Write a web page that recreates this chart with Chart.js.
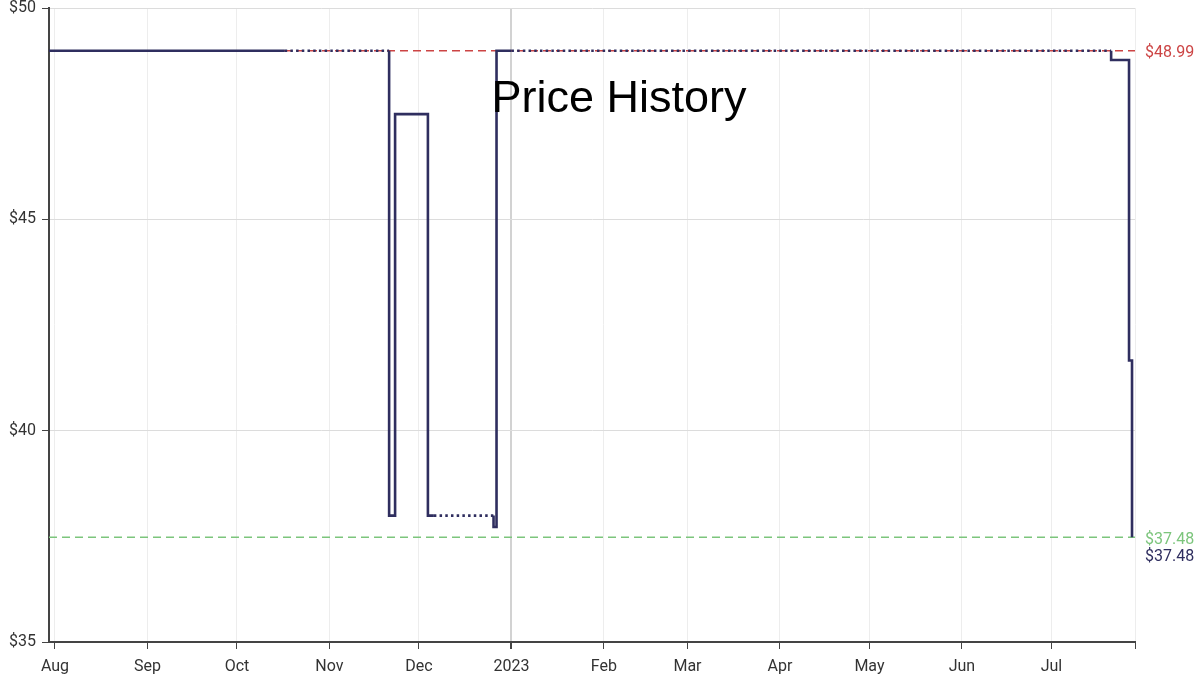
<!DOCTYPE html>
<html>
<head>
<meta charset="utf-8">
<script src="https://cdn.jsdelivr.net/npm/chart.js@4.4.1/dist/chart.umd.min.js"></script>
<style>
  html, body { margin: 0; padding: 0; background: #fff; }
  #wrap { width: 1200px; height: 681px; position: relative; }
</style>
</head>
<body>
<div id="wrap"><canvas id="priceChart"></canvas></div>
<script>
// Amazon price records (a repeated date = the step happens on that day)
const priceDates = ['2022-07-30', '2022-10-17', '2022-11-21', '2022-11-21', '2022-11-23', '2022-12-04', '2022-12-06',
                    '2022-12-26', '2022-12-26', '2022-12-27', '2023-01-01', '2023-07-21', '2023-07-21', '2023-07-27', '2023-07-28'];
const priceValues = [48.99, 48.99, 48.99, 37.99, 47.49, 37.99, 37.99,
                     37.99, 37.72, 48.99, 48.99, 48.99, 48.77, 41.66, 37.48];
// 1 = no data recorded until the next point (drawn dotted)
const gapAfter = [0, 1, 0, 0, 0, 0, 1, 0, 0, 0, 1, 0, 0, 0, 0];

const rangeStart = '2022-07-30';
const rangeEnd = '2023-07-29';

const monthTicks = ['2022-08-01', '2022-09-01', '2022-10-01', '2022-11-01', '2022-12-01', '2023-01-01',
                    '2023-02-01', '2023-03-01', '2023-04-01', '2023-05-01', '2023-06-01', '2023-07-01'];
const monthLabels = ['Aug', 'Sep', 'Oct', 'Nov', 'Dec', '2023', 'Feb', 'Mar', 'Apr', 'May', 'Jun', 'Jul'];

const yTicks = [35, 40, 45, 50];

const highestPrice = 48.99;
const lowestPrice = 37.48;
const currentPrice = 37.48;

const NAVY = '#2f2e5f';
const RED = '#cc4444';
const GREEN = '#7cc57c';

function toDay(s) {
    return Date.parse(s + 'T00:00:00Z') / 86400000;
}

const dayMin = toDay(rangeStart);
const dayMax = toDay(rangeEnd);

// labels on the right side + big title
const sideLabels = {
    id: 'sideLabels',
    afterDraw(chart) {
        const { ctx, chartArea, scales } = chart;
        const y = scales.y;
        const x = chartArea.right + 10;
        ctx.save();
        ctx.font = '16px Roboto';
        ctx.textAlign = 'left';
        ctx.textBaseline = 'middle';
        ctx.fillStyle = RED;
        ctx.fillText('$' + highestPrice.toFixed(2), x, y.getPixelForValue(highestPrice) + 2);
        ctx.fillStyle = GREEN;
        ctx.fillText('$' + lowestPrice.toFixed(2), x, y.getPixelForValue(lowestPrice) + 3);
        ctx.fillStyle = NAVY;
        ctx.fillText('$' + currentPrice.toFixed(2), x, y.getPixelForValue(currentPrice) + 20);

        ctx.font = '45px "Liberation Sans", Arial, sans-serif';
        ctx.textAlign = 'center';
        ctx.textBaseline = 'alphabetic';
        ctx.fillStyle = '#000';
        ctx.fillText('Price History', 619, 112);
        ctx.restore();
    }
};

Chart.defaults.font.family = 'Roboto';
Chart.defaults.font.size = 16;
Chart.defaults.color = '#333';

const ctx = document.getElementById('priceChart').getContext('2d');
new Chart(ctx, {
    type: 'line',
    data: {
        datasets: [
            {
                label: 'Amazon',
                data: priceDates.map((d, i) => ({ x: toDay(d), y: priceValues[i] })),
                borderColor: NAVY,
                borderWidth: 2.6,
                stepped: true,
                pointRadius: 0,
                fill: false,
                segment: {
                    borderDash: c => gapAfter[c.p0DataIndex] ? [2.5, 3.2] : undefined
                }
            },
            {
                label: 'Highest',
                data: [{ x: dayMin, y: highestPrice }, { x: dayMax, y: highestPrice }],
                borderColor: RED,
                borderWidth: 1.5,
                borderDash: [8, 5],
                pointRadius: 0,
                fill: false
            },
            {
                label: 'Lowest',
                data: [{ x: dayMin, y: lowestPrice }, { x: dayMax, y: lowestPrice }],
                borderColor: GREEN,
                borderWidth: 1.5,
                borderDash: [8, 5],
                pointRadius: 0,
                fill: false
            }
        ]
    },
    options: {
        responsive: true,
        maintainAspectRatio: false,
        animation: false,
        layout: { padding: { top: 0, right: 65, bottom: 0, left: 0 } },
        plugins: {
            legend: { display: false },
            tooltip: { enabled: false }
        },
        scales: {
            x: {
                type: 'linear',
                min: dayMin,
                max: dayMax,
                afterBuildTicks: scale => {
                    scale.ticks = monthTicks.map(d => ({ value: toDay(d) })).concat([{ value: dayMax }]);
                },
                afterFit: scale => { scale.height = 39; },
                ticks: {
                    autoSkip: false,
                    maxRotation: 0,
                    padding: 8,
                    callback: (v, i) => monthLabels[i] || ''
                },
                grid: {
                    color: c => monthLabels[c.index] === '2023' ? '#d2d2d2' : '#ededed',
                    lineWidth: c => monthLabels[c.index] === '2023' ? 2 : 1,
                    tickColor: '#444',
                    tickLength: 7
                },
                border: { color: '#444', width: 2 }
            },
            y: {
                min: 35,
                max: 50,
                afterBuildTicks: scale => {
                    scale.ticks = yTicks.map(v => ({ value: v }));
                },
                afterFit: scale => {
                    scale.width = 49;
                    scale.paddingTop = 8;
                },
                ticks: {
                    padding: 6,
                    callback: v => '$' + v
                },
                grid: {
                    color: '#dcdcdc',
                    tickColor: '#444',
                    tickLength: 7
                },
                border: { color: '#444', width: 2 }
            }
        }
    },
    plugins: [sideLabels]
});
</script>
</body>
</html>
